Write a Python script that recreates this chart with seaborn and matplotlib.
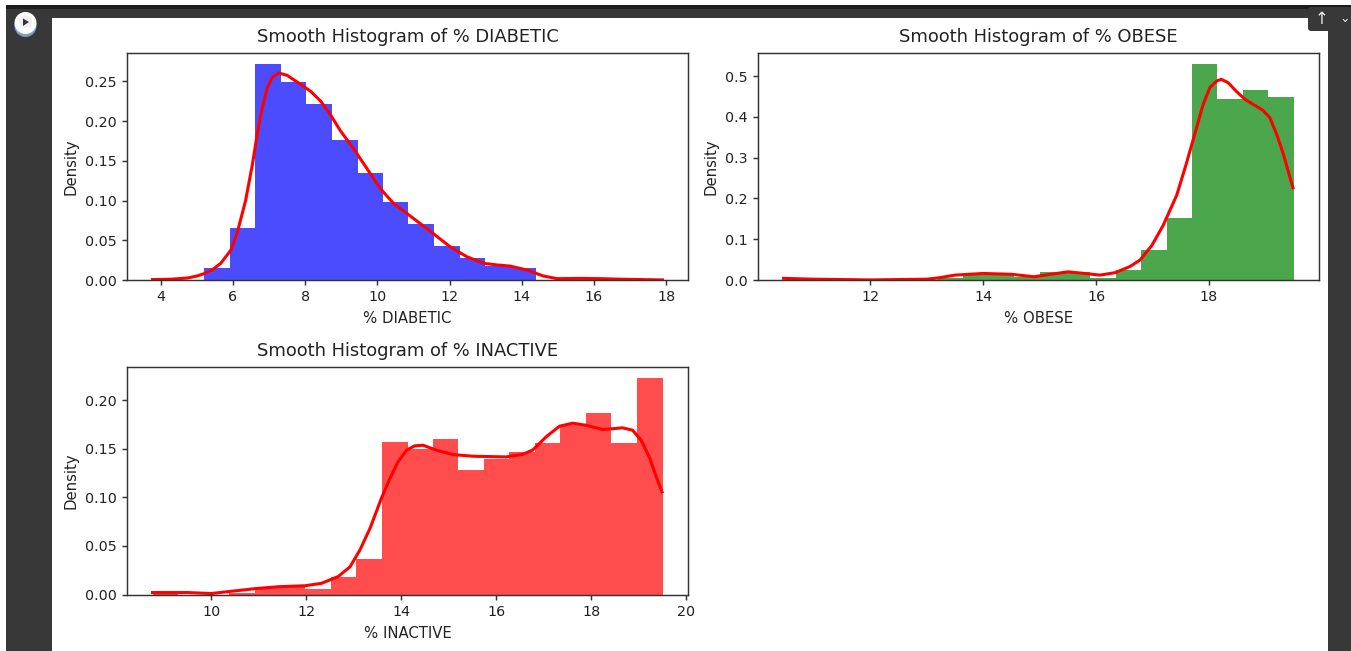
import numpy as np
import matplotlib
matplotlib.use("Agg")
import matplotlib.pyplot as plt
from matplotlib.patches import Rectangle, Circle, FancyBboxPatch
import seaborn as sns

# Values
diabetic_edges = [5.2, 5.91, 6.62, 7.32, 8.03, 8.74, 9.45, 10.15, 10.86, 11.57, 12.28, 12.98, 13.69, 14.4]
diabetic_heights = [0.0146, 0.066, 0.272, 0.249, 0.222, 0.176, 0.1346, 0.098, 0.07, 0.0433, 0.0283, 0.018, 0.0146]
diabetic_kde_x = [3.77, 4.28, 4.74, 5.0, 5.2, 5.43, 5.66, 5.94, 6.12, 6.35, 6.54, 6.67, 6.81, 6.95, 7.09, 7.27,
                  7.5, 7.78, 8.15, 8.43, 8.7, 8.98, 9.35, 9.72, 10.09, 10.46, 10.83, 11.1, 11.56, 12.02, 12.49,
                  12.95, 13.3, 13.68, 14.15, 14.6, 14.98, 15.62, 16.18, 16.73, 17.9]
diabetic_kde_y = [0.0005, 0.001, 0.0025, 0.005, 0.008, 0.013, 0.021, 0.0375, 0.06, 0.1, 0.146, 0.183, 0.2167,
                  0.2417, 0.255, 0.2604, 0.2575, 0.249, 0.2375, 0.225, 0.208, 0.1875, 0.1646, 0.1396, 0.1146,
                  0.0958, 0.0833, 0.074, 0.058, 0.0417, 0.029, 0.021, 0.019, 0.0175, 0.0125, 0.005, 0.0017,
                  0.002, 0.0017, 0.001, 0.0001]

obese_edges = [10.5, 10.95, 11.4, 11.85, 12.3, 12.75, 13.2, 13.65, 14.1, 14.55, 15.0, 15.45, 15.9, 16.35, 16.8,
               17.25, 17.7, 18.15, 18.6, 19.05, 19.5]
obese_heights = [0.005, 0, 0, 0, 0, 0, 0.006, 0.015, 0.016, 0.008, 0.019, 0.019, 0.006, 0.024, 0.073, 0.152,
                 0.53, 0.443, 0.4667, 0.448]
obese_kde_x = [10.46, 11.0, 12.0, 13.0, 13.2, 13.5, 14.0, 14.5, 14.9, 15.2, 15.5, 15.8, 16.07, 16.34, 16.6,
               16.78, 16.99, 17.19, 17.43, 17.6, 17.75, 17.9, 18.02, 18.14, 18.22, 18.34, 18.49, 18.64, 18.78,
               18.96, 19.08, 19.2, 19.32, 19.49]
obese_kde_y = [0.004, 0.002, 0.0002, 0.002, 0.005, 0.012, 0.016, 0.014, 0.008, 0.014, 0.02, 0.016, 0.012, 0.018,
               0.033, 0.049, 0.085, 0.134, 0.208, 0.285, 0.358, 0.431, 0.472, 0.488, 0.492, 0.484, 0.462, 0.443,
               0.431, 0.416, 0.398, 0.358, 0.309, 0.226]

inactive_edges = [8.76, 9.3, 9.83, 10.37, 10.91, 11.44, 11.98, 12.52, 13.05, 13.59, 14.13, 14.66, 15.2, 15.74,
                  16.27, 16.81, 17.35, 17.88, 18.42, 18.96, 19.5]
inactive_heights = [0.002, 0, 0, 0.002, 0.0075, 0.009, 0.006, 0.0175, 0.037, 0.157, 0.15, 0.16, 0.128, 0.139,
                    0.1464, 0.1564, 0.174, 0.1872, 0.1564, 0.223]
inactive_kde_x = [8.76, 9.5, 10.0, 10.36, 10.92, 11.41, 11.97, 12.32, 12.67, 12.92, 13.13, 13.34, 13.58, 13.76,
                  13.93, 14.11, 14.28, 14.46, 14.74, 15.09, 15.51, 16.21, 16.56, 16.77, 17.05, 17.33, 17.61,
                  17.89, 18.24, 18.66, 18.87, 19.05, 19.23, 19.37, 19.49]
inactive_kde_y = [0.002, 0.002, 0.001, 0.003, 0.006, 0.008, 0.009, 0.0115, 0.0185, 0.0285, 0.046, 0.068, 0.099,
                  0.1194, 0.1365, 0.1485, 0.153, 0.1536, 0.1485, 0.144, 0.1423, 0.1416, 0.1443, 0.1488, 0.1623,
                  0.1732, 0.1763, 0.1742, 0.1698, 0.1715, 0.1691, 0.1588, 0.1406, 0.121, 0.1056]

W, H = 1351, 651


def px_axes(fig, left, right, top, bottom):
    return fig.add_axes([left / W, 1 - bottom / H, (right - left) / W, (bottom - top) / H])


def fig_rect(fig, x0, y0, x1, y1, color):
    # zorder below the axes, figure patches are drawn over them otherwise
    fig.add_artist(Rectangle((x0 / W, 1 - y1 / H), (x1 - x0) / W, (y1 - y0) / H,
                             transform=fig.transFigure, color=color, lw=0, zorder=-1))


def smooth_hist(ax, name, edges, heights, kde_x, kde_y, color):
    centers = (np.array(edges[:-1]) + np.array(edges[1:])) / 2
    # bins stays a plain list, seaborn compares it with "auto"
    sns.histplot(x=centers, weights=heights, bins=edges, color=color, alpha=0.7,
                 linewidth=0, ax=ax)
    sns.lineplot(x=kde_x, y=kde_y, color="red", linewidth=2.2, ax=ax)
    ax.set_title("Smooth Histogram of % " + name, fontsize=12.85, color="#222222", pad=8)
    ax.set_xlabel("% " + name, color="#222222", fontsize=10.7, labelpad=5)
    ax.set_ylabel("Density", color="#222222", fontsize=10.7, labelpad=5)
    ax.tick_params(colors="#333333", labelcolor="#222222", labelsize=10.3, width=1.05, length=3.8)
    for s in ax.spines.values():
        s.set_color("#333333")
        s.set_linewidth(1.05)


fig = plt.figure(figsize=(W / 100, H / 100), dpi=100, facecolor="#383838")

# notebook viewer around the plots
fig_rect(fig, 0, 0, W, 5, "white")
fig_rect(fig, 0, 0, 6, H, "white")
fig_rect(fig, 6, 5, W, 9, "#1c1c1c")
fig_rect(fig, 52, 18, 1328, H, "white")

ax_icon = fig.add_axes([0, 0, 1, 1], facecolor="none", zorder=5)
ax_icon.set_xlim(0, W)
ax_icon.set_ylim(H, 0)
ax_icon.axis("off")
ax_icon.add_patch(Circle((25.5, 26), 11, color="#7f9cc4", lw=0))
ax_icon.add_patch(Circle((25.5, 23), 11, color="white", lw=0))
ax_icon.add_patch(Circle((25.5, 22), 6.5, color="#f0f0f0", lw=0))
ax_icon.fill([23, 23, 29], [18.5, 26, 22], color="#333333", lw=0)
ax_icon.add_patch(FancyBboxPatch((1308, 7), 60, 24, boxstyle="round,pad=0,rounding_size=3",
                                 color="#383838", lw=0))
ax_icon.text(1322, 19, "↑", color="#e8e8e8", fontsize=12, ha="center", va="center")
ax_icon.text(1345, 19, "⌄", color="#e8e8e8", fontsize=9, ha="center", va="center")

ax1 = px_axes(fig, 127, 688, 53, 280)
smooth_hist(ax1, "DIABETIC", diabetic_edges, diabetic_heights, diabetic_kde_x, diabetic_kde_y, "blue")
ax2 = px_axes(fig, 758, 1319, 53, 280)
smooth_hist(ax2, "OBESE", obese_edges, obese_heights, obese_kde_x, obese_kde_y, "green")
ax3 = px_axes(fig, 127, 688, 367, 594.5)
smooth_hist(ax3, "INACTIVE", inactive_edges, inactive_heights, inactive_kde_x, inactive_kde_y, "red")

plt.savefig("out.png", dpi=100, facecolor=fig.get_facecolor())
